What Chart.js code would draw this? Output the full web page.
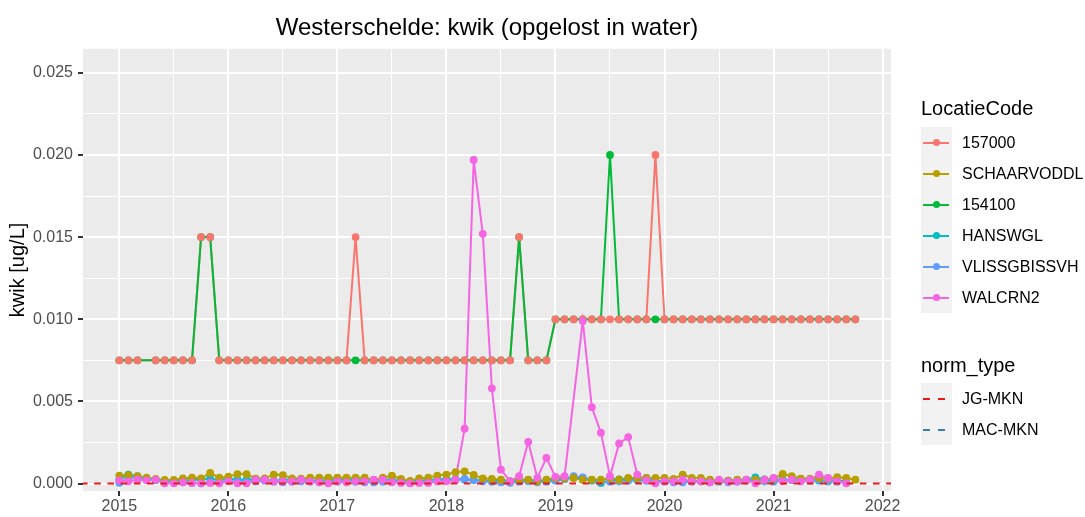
<!DOCTYPE html>
<html>
<head>
<meta charset="utf-8">
<script src="https://cdn.jsdelivr.net/npm/chart.js@4"></script>
<style>
  body { margin: 0; background: #fff; }
  #wrap { position: relative; width: 1085px; height: 517px; font-family: 'Liberation Sans', Arial, sans-serif; }
  #grafiek { position: absolute; left: 0; top: 0; }
  .ltitel { position: absolute; left: 921px; font-size: 20px; line-height: 24px; color: #000; white-space: nowrap; }
  .lvak { position: absolute; left: 921px; width: 31px; background: #F2F2F2; }
  .lijn { position: absolute; left: 923px; width: 26px; height: 2px; }
  .stip { position: absolute; left: 932.5px; width: 7px; height: 7px; border-radius: 50%; }
  .streep { position: absolute; width: 7px; height: 2px; }
  .label { position: absolute; left: 962px; font-size: 16px; line-height: 20px; color: #000; white-space: nowrap; }
</style>
</head>
<body>
<div id="wrap">
  <canvas id="grafiek" width="1085" height="517"></canvas>
  <div id="legenda"></div>
</div>
<script>
// Maanden jan 2015 t/m okt 2021 (als decimaal jaar)
const maanden = Array.from({ length: 82 }, (_, i) => 2015 + i / 12);

// Meetwaarden kwik [ug/L] per locatie, per maand (null = geen meting)
const reeks157000 = [
  0.0075,0.0075,0.0075,null,0.0075,0.0075,0.0075,0.0075,0.0075,0.015,0.015,0.0075,
  0.0075,0.0075,0.0075,0.0075,0.0075,0.0075,0.0075,0.0075,0.0075,0.0075,0.0075,0.0075,
  0.0075,0.0075,0.015,0.0075,0.0075,0.0075,0.0075,0.0075,0.0075,0.0075,0.0075,0.0075,
  0.0075,0.0075,0.0075,0.0075,0.0075,0.0075,0.0075,0.0075,0.015,0.0075,0.0075,0.0075,
  0.010,0.010,0.010,0.010,0.010,0.010,0.010,0.010,0.010,0.010,0.010,0.020,
  0.010,0.010,0.010,0.010,0.010,0.010,0.010,0.010,0.010,0.010,0.010,0.010,
  0.010,0.010,0.010,0.010,0.010,0.010,0.010,0.010,0.010,0.010
];
const reeksSchaarvoddl = [
  0.00049,0.00052,0.00045,0.00036,0.00028,0.00022,0.00022,0.00032,0.00036,0.00032,0.00065,0.00036,
  0.00042,0.00058,0.00058,0.00030,0.00032,0.00055,0.00052,0.00032,0.00030,0.00036,0.00036,0.00036,
  0.00036,0.00036,0.00036,0.00036,0.00022,0.00036,0.00049,0.00028,0.00016,0.00032,0.00036,0.00049,
  0.00055,0.00069,0.00075,0.00053,0.00032,0.00028,0.00024,0.00014,0.00024,0.00024,0.00014,0.00024,
  0.00034,0.00034,0.00034,0.00024,0.00024,0.00024,0.00034,0.00024,0.00034,0.00034,0.00034,0.00034,
  0.00034,0.00028,0.00055,0.00034,0.00034,0.00024,0.00018,0.00018,0.00024,0.00024,0.00024,0.00024,
  0.00030,0.00059,0.00045,0.00030,0.00030,0.00034,0.00030,0.00040,0.00034,0.00024
];
const reeks154100 = [
  0.0075,0.0075,0.0075,null,0.0075,0.0075,0.0075,0.0075,0.0075,0.015,0.015,0.0075,
  0.0075,0.0075,0.0075,0.0075,0.0075,0.0075,0.0075,0.0075,0.0075,0.0075,0.0075,0.0075,
  0.0075,0.0075,0.0075,0.0075,0.0075,0.0075,0.0075,0.0075,0.0075,0.0075,0.0075,0.0075,
  0.0075,0.0075,0.0075,0.0075,0.0075,0.0075,0.0075,0.0075,0.015,0.0075,0.0075,0.0075,
  0.010,0.010,0.010,0.010,0.010,0.010,0.020,0.010,0.010,0.010,0.010,0.010,
  0.010,0.010,0.010,0.010,0.010,0.010,0.010,0.010,0.010,0.010,0.010,0.010,
  0.010,0.010,0.010,0.010,0.010,0.010,0.010,0.010,0.010,0.010
];
const reeksHanswgl = [
  0.00022,0.00055,0.00040,0.00030,0.00022,0.00018,0.00014,0.00018,0.00022,0.00025,0.00030,0.00022,
  0.00028,0.00025,0.00022,0.00028,0.00022,0.00018,0.00022,0.00025,0.00022,0.00020,0.00018,0.00022,
  0.00022,0.00025,0.00022,0.00020,0.00018,0.00025,0.00022,0.00018,0.00008,0.00018,0.00022,0.00025,
  0.00028,0.00028,0.00025,0.00022,0.00018,0.00014,0.00018,0.00014,0.00018,0.00022,0.00018,0.00018,
  0.00022,0.00028,0.00035,0.00032,0.00018,0.00004,0.00018,0.00025,0.00028,0.00022,0.00018,0.00014,
  0.00018,0.00014,0.00018,0.00018,0.00014,0.00018,0.00014,0.00018,0.00018,0.00022,0.00038,0.00025,
  0.00022,0.00025,0.00022,0.00018,0.00022,0.00018,0.00014,0.00014,0.00018,null
];
const reeksVlissgbissvh = [
  0.00005,0.00030,0.00045,0.00030,0.00020,0.00012,0.00008,0.00008,0.00004,0.00002,0.00008,0.00012,
  0.00014,0.00012,0.00008,0.00014,0.00018,0.00012,0.00008,0.00012,0.00014,0.00012,0.00008,0.00008,
  0.00012,0.00014,0.00012,0.00008,0.00008,0.00012,0.00014,0.00012,0.00004,0.00008,0.00012,0.00014,
  0.00018,0.00022,0.00028,0.00022,0.00014,0.00012,0.00008,0.00005,0.00012,0.00014,0.00008,0.00012,
  0.00018,0.00028,0.00045,0.00038,0.00022,0.00014,0.00012,0.00014,0.00018,0.00022,0.00034,0.00014,
  0.00012,0.00008,0.00008,0.00012,0.00014,0.00008,0.00012,0.00008,0.00012,0.00018,0.00022,0.00014,
  0.00012,0.00018,0.00022,0.00028,0.00018,0.00022,0.00014,0.00012,0.00008,null
];
const reeksWalcrn2 = [
  0.00020,0.00014,0.00024,0.00020,0.00024,0.00002,0.00002,0.00008,0.00004,0.00002,0.00004,0.00002,
  0.00014,0.00002,0.00002,0.00024,0.00024,0.00014,0.00014,0.00014,0.00024,0.00014,0.00008,0.00002,
  0.00014,0.00008,0.00014,0.00014,0.00024,0.00024,0.00008,0.00004,0.00002,0.00004,0.00004,0.00014,
  0.00014,0.00024,0.00334,0.0197,0.0152,0.0058,0.00085,0.00014,0.00045,0.00254,0.00035,0.00157,
  0.00041,0.00045,null,0.0099,0.00465,0.0031,0.00045,0.00244,0.00283,0.00055,0.00020,0.00002,
  0.00014,0.00014,0.00024,0.00014,0.00014,0.00008,0.00024,0.00014,0.00014,0.00024,0.00002,0.00024,
  0.00034,0.00014,0.00024,0.00014,0.00024,0.00055,0.00034,0.00014,0.00002,null
];

// Normen
const normTypes = ['JG-MKN', 'MAC-MKN'];
const jgMkn = 0;

// As-indeling
const jaren = [2015, 2016, 2017, 2018, 2019, 2020, 2021, 2022];
const yLabels = [0, 0.005, 0.010, 0.015, 0.020, 0.025];
const X_MIN = 2014.667, X_MAX = 2022.077;
const Y_MIN = -0.00045, Y_MAX = 0.02646;

const locaties = ['157000', 'SCHAARVODDL', '154100', 'HANSWGL', 'VLISSGBISSVH', 'WALCRN2'];
const reeksen = [reeks157000, reeksSchaarvoddl, reeks154100, reeksHanswgl, reeksVlissgbissvh, reeksWalcrn2];
const kleuren = ['#F8766D', '#B79F00', '#00BA38', '#00BFC4', '#619CFF', '#F564E3'];
const normKleuren = ['#E41A1C', '#377EB8'];

function punten(reeks) {
  return maanden.map((x, i) => ({ x, y: reeks[i] }));
}

// minor gridlijnen tussen de hoofdticks
function metMinors(major) {
  const out = [];
  major.forEach((v, i) => {
    out.push({ value: v, hoofd: true });
    if (i < major.length - 1) out.push({ value: (v + major[i + 1]) / 2, hoofd: false });
  });
  return out;
}
const xTicks = metMinors(jaren);
const yTicks = metMinors(yLabels);
const isHoofd = (lijst, v) => lijst.some(t => t.hoofd && Math.abs(t.value - v) < 1e-9);

// Datasets: eerst alle lijnen, dan alle punten (volgorde = onder naar boven)
const lijnVolgorde = [0, 1, 2, 3, 4, 5];
const puntVolgorde = [2, 0, 3, 4, 1, 5];
const sets = [];
lijnVolgorde.forEach(i => sets.push({
  label: locaties[i], data: punten(reeksen[i]), borderColor: kleuren[i], borderWidth: 2,
  pointRadius: 0, spanGaps: true, tension: 0, fill: false
}));
puntVolgorde.forEach(i => sets.push({
  label: locaties[i] + ' punten', data: punten(reeksen[i]), showLine: false,
  pointRadius: 3.9, pointBackgroundColor: kleuren[i], pointBorderWidth: 0, pointHoverRadius: 3.9
}));
sets.push({
  label: normTypes[0], data: [{ x: X_MIN, y: jgMkn }, { x: X_MAX, y: jgMkn }],
  borderColor: normKleuren[0], borderWidth: 2, borderDash: [6.6, 6.6], borderDashOffset: 2,
  pointRadius: 0, fill: false
});
sets.forEach((s, i) => { s.order = sets.length - i; });

const panelAchtergrond = {
  id: 'panelAchtergrond',
  beforeDraw(chart) {
    const a = chart.chartArea, ctx = chart.ctx;
    ctx.save();
    ctx.fillStyle = '#EBEBEB';
    ctx.fillRect(a.left, a.top, a.right - a.left, a.bottom - a.top);
    ctx.restore();
  }
};

Chart.defaults.font.family = "'Liberation Sans', Arial, sans-serif";

new Chart(document.getElementById('grafiek'), {
  type: 'line',
  data: { datasets: sets },
  options: {
    responsive: false, animation: false, devicePixelRatio: 1,
    layout: { padding: { left: 0, right: 194, top: 0, bottom: 0 } },
    plugins: {
      legend: { display: false },
      tooltip: { enabled: false },
      title: {
        display: true, text: 'Westerschelde: kwik (opgelost in water)', color: '#000',
        font: { size: 24, weight: 'normal' }, padding: { top: 14, bottom: 6 }, fullSize: false
      }
    },
    scales: {
      x: {
        type: 'linear', min: X_MIN, max: X_MAX,
        afterBuildTicks: s => { s.ticks = xTicks.map(t => ({ value: t.value })); },
        afterFit: s => { s.height = 26; },
        border: { display: false },
        grid: {
          color: '#FFFFFF', tickLength: 5, tickWidth: 2,
          lineWidth: c => isHoofd(xTicks, c.tick.value) ? 2 : 1,
          tickColor: c => isHoofd(xTicks, c.tick.value) ? '#333333' : 'rgba(0,0,0,0)'
        },
        ticks: {
          autoSkip: false, maxRotation: 0, color: '#4D4D4D', font: { size: 16 }, padding: 1,
          callback: v => isHoofd(xTicks, v) ? String(Math.round(v)) : ''
        }
      },
      y: {
        min: Y_MIN, max: Y_MAX,
        afterBuildTicks: s => { s.ticks = yTicks.map(t => ({ value: t.value })); },
        afterFit: s => { s.width = 83; },
        border: { display: false },
        grid: {
          color: '#FFFFFF', tickLength: 5, tickWidth: 2,
          lineWidth: c => isHoofd(yTicks, c.tick.value) ? 2 : 1,
          tickColor: c => isHoofd(yTicks, c.tick.value) ? '#333333' : 'rgba(0,0,0,0)'
        },
        ticks: {
          autoSkip: false, color: '#4D4D4D', font: { size: 16 }, padding: 5,
          callback: v => isHoofd(yTicks, v) ? v.toFixed(3) : ''
        },
        title: {
          display: true, text: 'kwik [ug/L]', color: '#000', font: { size: 20 },
          padding: { top: 6, bottom: 0 }
        }
      }
    }
  },
  plugins: [panelAchtergrond]
});

// Legenda in ggplot-stijl
function maakLegenda() {
  let html = '<div class="ltitel" style="top:96px">LocatieCode</div>';
  html += `<div class="lvak" style="top:127px;height:${31 * locaties.length}px"></div>`;
  locaties.forEach((naam, i) => {
    const y = 142.5 + 31 * i;
    html += `<div class="lijn" style="top:${y - 1}px;background:${kleuren[i]}"></div>`;
    html += `<div class="stip" style="top:${y - 3.5}px;background:${kleuren[i]}"></div>`;
    html += `<div class="label" style="top:${y - 10}px">${naam}</div>`;
  });
  html += '<div class="ltitel" style="top:353px">norm_type</div>';
  html += `<div class="lvak" style="top:383px;height:${31 * normTypes.length}px"></div>`;
  normTypes.forEach((naam, i) => {
    const y = 398.5 + 31 * i;
    html += `<div class="streep" style="left:923px;top:${y - 1}px;background:${normKleuren[i]}"></div>`;
    html += `<div class="streep" style="left:937.5px;top:${y - 1}px;background:${normKleuren[i]}"></div>`;
    html += `<div class="label" style="top:${y - 10}px">${naam}</div>`;
  });
  document.getElementById('legenda').innerHTML = html;
}
maakLegenda();
</script>
</body>
</html>
